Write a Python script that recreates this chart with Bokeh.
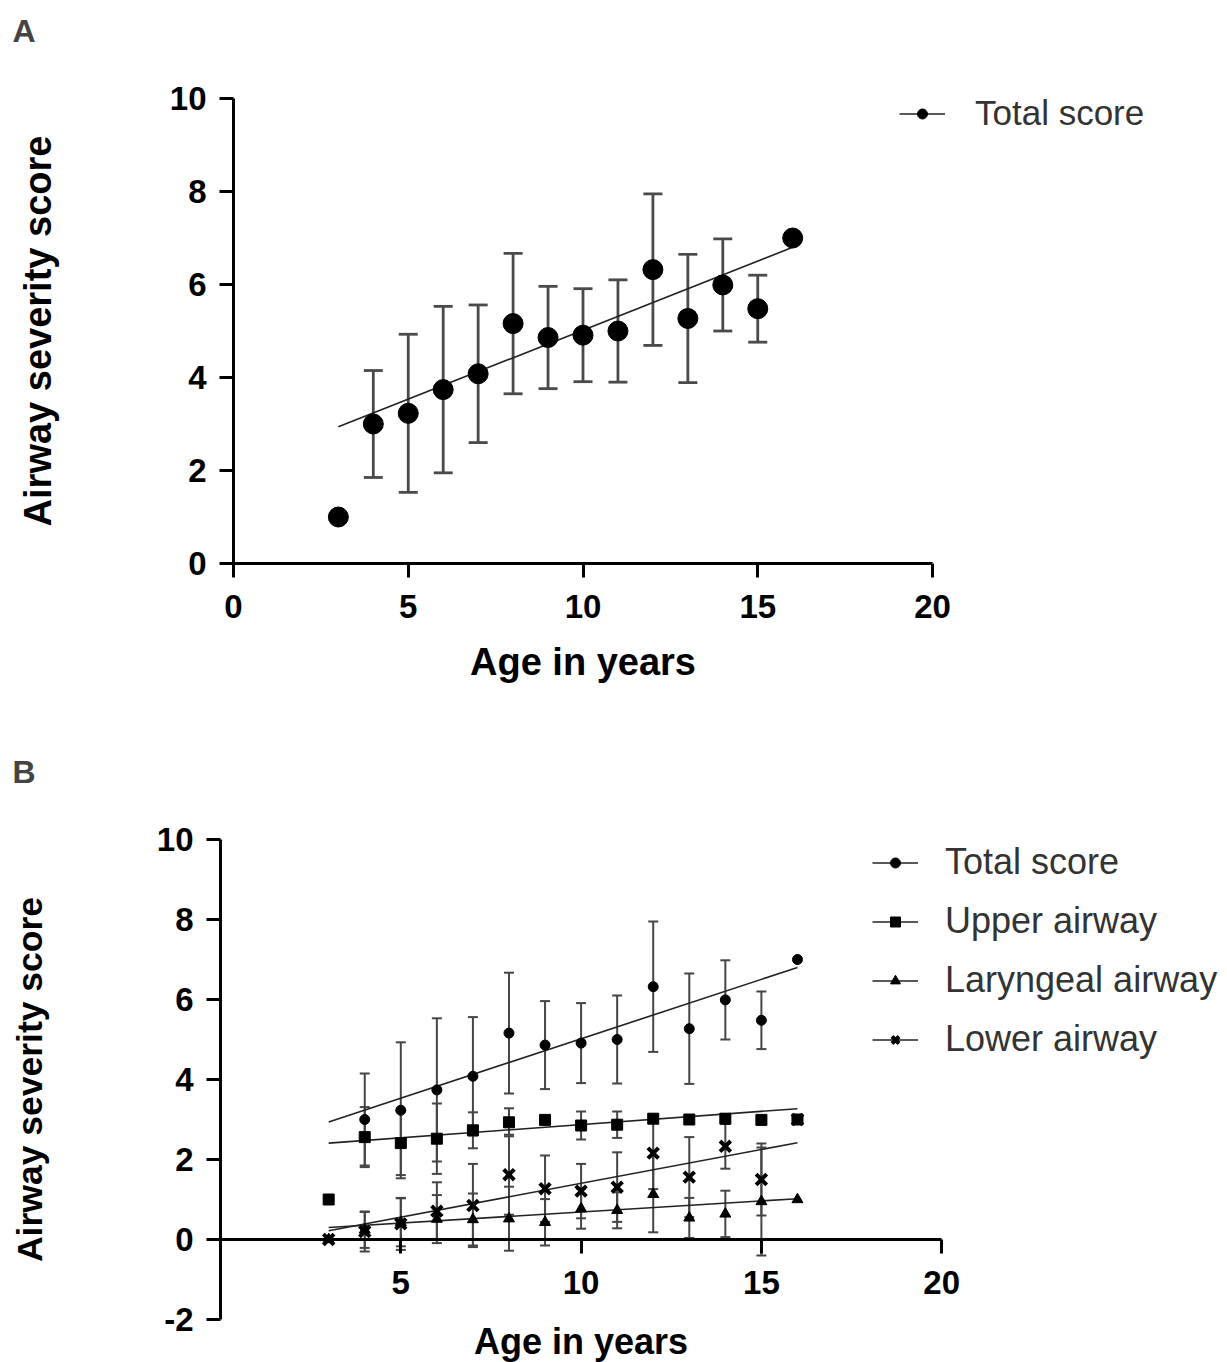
from bokeh.plotting import figure
from bokeh.models import (Range1d, FixedTicker, Whisker, TeeHead, ColumnDataSource,
                          Legend, LegendItem, Label)
from bokeh.layouts import column
from bokeh.embed import file_html
from bokeh.resources import INLINE

# ---------------- data ----------------
ages = [3, 4, 5, 6, 7, 8, 9, 10, 11, 12, 13, 14, 15, 16]
total_mean = [1.0, 3.0, 3.23, 3.74, 4.08, 5.16, 4.86, 4.91, 5.0, 6.32, 5.27, 5.99, 5.48, 7.0]
total_sd = [0, 1.15, 1.7, 1.79, 1.48, 1.51, 1.1, 1.0, 1.1, 1.63, 1.38, 0.99, 0.72, 0]
upper_mean = [1.0, 2.56, 2.41, 2.52, 2.73, 2.93, 2.99, 2.85, 2.87, 3.02, 3.0, 3.02, 2.99, 3.0]
upper_sd = [0, 0.75, 0.8, 0.88, 0.45, 0.35, 0, 0.35, 0.33, 0, 0, 0, 0, 0]
laryngeal_mean = [0.0, 0.24, 0.43, 0.51, 0.5, 0.52, 0.43, 0.77, 0.73, 1.13, 0.54, 0.64, 0.95, 1.0]
laryngeal_sd = [0, 0.45, 0.6, 0.6, 0.65, 0.8, 0.58, 0.5, 0.45, 0.95, 0.5, 0.58, 1.35, 0]
lower_mean = [0.0, 0.2, 0.39, 0.71, 0.85, 1.62, 1.27, 1.21, 1.31, 2.16, 1.56, 2.33, 1.5, 3.0]
lower_sd = [0, 0.5, 0.65, 0.72, 1.04, 1.0, 0.83, 0.68, 0.87, 0.9, 1.0, 0.56, 0.9, 0]

fit_x = [3, 16]
total_fit = [2.94, 6.80]
upper_fit = [2.41, 3.27]
laryngeal_fit = [0.30, 1.02]
lower_fit = [0.22, 2.42]

series_names = ["Total score", "Upper airway", "Laryngeal airway", "Lower airway"]
x_ticks_a = [0, 5, 10, 15, 20]
y_ticks_a = [0, 2, 4, 6, 8, 10]
x_ticks_b = [5, 10, 15, 20]
y_ticks_b = [-2, 0, 2, 4, 6, 8, 10]

FONT = "Liberation Sans"
BAR = "#454545"


def err_source(means, sds):
    xs, lo, hi = [], [], []
    for a, m, s in zip(ages, means, sds):
        if s > 0:
            xs.append(a)
            lo.append(m - s)
            hi.append(m + s)
    return ColumnDataSource(dict(x=xs, lower=lo, upper=hi))


def add_whisker(p, means, sds, cap, width, color):
    w = Whisker(source=err_source(means, sds), base="x", lower="lower", upper="upper",
                line_color=color, line_width=width,
                upper_head=TeeHead(size=cap, line_color=color, line_width=width),
                lower_head=TeeHead(size=cap, line_color=color, line_width=width),
                level="underlay")
    p.add_layout(w)


def style_axes(p, xt, xb, yt, yb, xlab_size, ylab_size, x_standoff, y_standoff):
    for ax, ticks, bounds in ((p.xaxis[0], xt, xb), (p.yaxis[0], yt, yb)):
        ax.ticker = FixedTicker(ticks=ticks)
        ax.bounds = bounds
        ax.fixed_location = 0
        ax.axis_line_width = 3
        ax.axis_line_color = "black"
        ax.major_tick_line_width = 3
        ax.major_tick_line_color = "black"
        ax.major_tick_out = 14
        ax.major_tick_in = 0
        ax.minor_tick_out = 0
        ax.minor_tick_in = 0
        ax.major_label_text_font = FONT
        ax.major_label_text_font_style = "bold"
        ax.major_label_text_font_size = "33px"
        ax.major_label_text_color = "black"
        ax.axis_label_text_font = FONT
        ax.axis_label_text_font_style = "bold"
        ax.axis_label_text_color = "black"
        ax.major_label_overrides = {t: str(t) for t in ticks}
    p.xaxis[0].major_label_standoff = 17
    p.yaxis[0].major_label_standoff = 13
    p.xaxis[0].axis_label = "Age in years"
    p.xaxis[0].axis_label_text_font_size = xlab_size
    p.xaxis[0].axis_label_standoff = x_standoff
    p.yaxis[0].axis_label = "Airway severity score"
    p.yaxis[0].axis_label_text_font_size = ylab_size
    p.yaxis[0].axis_label_standoff = y_standoff
    p.xgrid.visible = False
    p.ygrid.visible = False
    p.outline_line_color = None


# ---------------- panel A ----------------
pA = figure(width=1227, height=730, output_backend="svg", toolbar_location=None,
            x_range=Range1d(-233 / 34.95, 994 / 34.95),
            y_range=Range1d(-167 / 46.5, 563 / 46.5),
            min_border=0)
style_axes(pA, x_ticks_a, (0, 20), y_ticks_a, (0, 10), "38px", "38px", 20, 108)
add_whisker(pA, total_mean, total_sd, 19, 2.8, "#4a4a4a")
lineA = pA.line(fit_x, total_fit, line_color="#222222", line_width=1.6)
dotsA = pA.scatter(ages, total_mean, size=20, marker="circle", color="black")

legA = Legend(items=[LegendItem(label=series_names[0], renderers=[lineA, dotsA])],
              location=(899, 597), glyph_width=46, glyph_height=25, label_height=25,
              label_standoff=30, label_text_font=FONT, label_text_font_size="35px",
              label_text_color="#333333", border_line_color=None,
              background_fill_alpha=0, padding=0, margin=0, spacing=0)
pA.add_layout(legA)
pA.add_layout(Label(x=12, y=700, x_units="screen", y_units="screen", text="A",
                    text_font=FONT, text_font_style="bold", text_font_size="32px",
                    text_baseline="middle", text_align="left"))

# ---------------- panel B ----------------
pB = figure(width=1227, height=632, output_backend="svg", toolbar_location=None,
            x_range=Range1d(-220 / 36.06, 1007 / 36.06),
            y_range=Range1d(-123 / 40.0, 509 / 40.0),
            min_border=0)
style_axes(pB, x_ticks_b, (0, 20), y_ticks_b, (-2, 10), "36px", "35.5px", 24, 104)

for m, s in ((total_mean, total_sd), (upper_mean, upper_sd),
             (laryngeal_mean, laryngeal_sd), (lower_mean, lower_sd)):
    add_whisker(pB, m, s, 10, 2, BAR)

fit_lines = []
for f in (total_fit, upper_fit, laryngeal_fit, lower_fit):
    fit_lines.append(pB.line(fit_x, f, line_color="#222222", line_width=1.6))

marks = [
    pB.scatter(ages, total_mean, size=10, marker="circle", color="black"),
    pB.scatter(ages, upper_mean, size=11, marker="square", color="black"),
    pB.scatter(ages, laryngeal_mean, size=11, marker="triangle", color="black"),
    pB.scatter(ages, lower_mean, size=15, marker="x", line_color="black", line_width=4),
]

items = [LegendItem(label=n, renderers=[ln, mk])
         for n, ln, mk in zip(series_names, fit_lines, marks)]
legB = Legend(items=items, location=(872, 302), glyph_width=46, glyph_height=25,
              label_height=25, label_standoff=27, label_text_font=FONT,
              label_text_font_size="36px", label_text_color="#333333",
              border_line_color=None, background_fill_alpha=0, padding=0, margin=0,
              spacing=17)
pB.add_layout(legB)
pB.add_layout(Label(x=12, y=591, x_units="screen", y_units="screen", text="B",
                    text_font=FONT, text_font_style="bold", text_font_size="32px",
                    text_baseline="middle", text_align="left"))

layout = column(pA, pB, spacing=0)
open("out.html", "w").write(file_html(layout, INLINE))
